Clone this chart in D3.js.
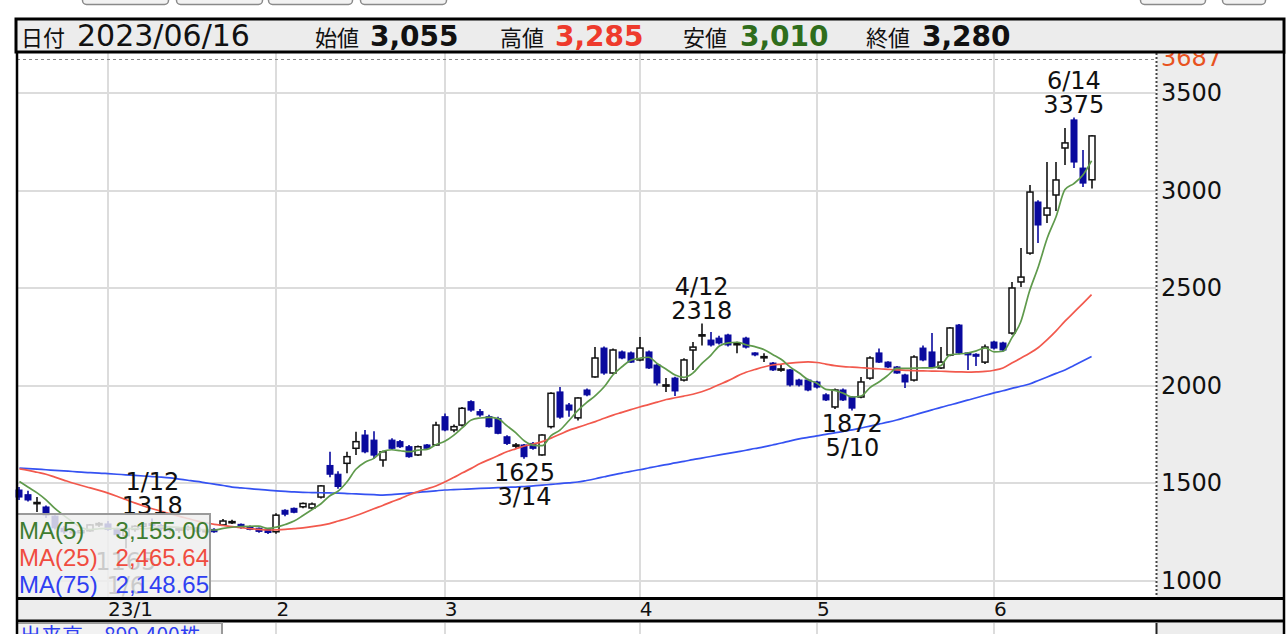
<!DOCTYPE html>
<html><head><meta charset="utf-8">
<script src="https://cdn.jsdelivr.net/npm/d3@7"></script>
<style>body{margin:0;background:#fff;overflow:hidden}svg{display:block}</style>
</head><body><svg id="c" width="1286" height="634"></svg>
<script>
// ---------- DATA ----------
const dates = [
"12/19","12/20","12/21","12/22","12/23","12/26","12/27","12/28","12/29","12/30",
"1/4","1/5","1/6","1/10","1/11","1/12","1/13","1/16","1/17","1/18","1/19","1/20","1/23","1/24","1/25","1/26","1/27","1/30","1/31",
"2/1","2/2","2/3","2/6","2/7","2/8","2/9","2/10","2/13","2/14","2/15","2/16","2/17","2/20","2/21","2/22","2/24","2/27","2/28",
"3/1","3/2","3/3","3/6","3/7","3/8","3/9","3/10","3/13","3/14","3/15","3/16","3/17","3/20","3/22","3/23","3/24","3/27","3/28","3/29","3/30","3/31",
"4/3","4/4","4/5","4/6","4/7","4/10","4/11","4/12","4/13","4/14","4/17","4/18","4/19","4/20","4/21","4/24","4/25","4/26","4/27","4/28",
"5/1","5/2","5/8","5/9","5/10","5/11","5/12","5/15","5/16","5/17","5/18","5/19","5/22","5/23","5/24","5/25","5/26","5/29","5/30","5/31",
"6/1","6/2","6/5","6/6","6/7","6/8","6/9","6/12","6/13","6/14","6/15","6/16"];
const openP = [1464,1440,1395,1377,1330,1268,1250,1245,1255,1285,
1290,1262,1230,1262,1278,1292,1282,1262,1258,1265,1270,1252,1262,1285,1296,1288,1275,1268,1262,
1250,1360,1370,1378,1372,1428,1590,1545,1601,1678,1746,1720,1618,1720,1712,1686,1644,1695,1695,
1840,1772,1797,1917,1866,1840,1830,1737,1692,1695,1703,1644,1789,1967,1900,1834,1977,2044,2192,2064,2172,2167,
2131,2172,2105,1998,2038,2028,2182,2255,2233,2243,2259,2212,2243,2167,2146,2115,2083,2080,2028,2028,
2018,1952,1890,1977,1941,1941,2038,2167,2120,2095,2054,2028,2192,2172,2090,2156,2310,2167,2160,2120,
2223,2218,2269,2531,2679,2941,2874,2977,3218,3362,3115,3055];
const highP = [1479,1460,1428,1385,1335,1280,1262,1262,1290,1300,
1305,1270,1268,1285,1300,1318,1290,1275,1272,1282,1275,1262,1268,1315,1312,1292,1282,1272,1268,
1345,1365,1375,1400,1400,1490,1660,1560,1660,1763,1772,1765,1665,1730,1720,1695,1692,1700,1814,
1857,1800,1890,1925,1880,1850,1840,1745,1705,1700,1710,1750,1965,1992,1910,1940,1985,2197,2200,2190,2180,2175,
2249,2180,2110,2038,2045,2140,2223,2318,2275,2255,2265,2225,2250,2170,2165,2120,2110,2085,2035,2035,
2025,1960,1985,1985,1945,2043,2150,2190,2125,2100,2060,2155,2205,2269,2197,2300,2315,2170,2165,2210,
2230,2225,2531,2705,3028,2950,3146,3146,3321,3375,3208,3285];
const lowP = [1413,1405,1351,1320,1262,1240,1235,1238,1250,1275,
1255,1225,1165,1250,1268,1270,1255,1245,1245,1255,1245,1240,1245,1280,1290,1265,1258,1245,1238,
1240,1330,1345,1370,1365,1420,1530,1470,1550,1644,1652,1625,1583,1670,1680,1630,1638,1670,1690,
1765,1760,1790,1865,1840,1785,1750,1695,1680,1625,1670,1640,1780,1830,1840,1820,1945,2040,2055,2060,2135,2115,
2125,2085,2000,1967,1946,2020,2080,2205,2200,2210,2200,2165,2190,2150,2120,2075,2070,1995,1995,1970,
1985,1920,1880,1920,1872,1935,2030,2115,2090,2060,1987,2020,2125,2090,2085,2150,2160,2080,2100,2110,
2185,2175,2260,2505,2670,2731,2833,2895,3131,3115,3018,3010];
const closeP = [1428,1413,1400,1336,1270,1250,1245,1255,1285,1292,
1262,1235,1262,1278,1290,1282,1265,1258,1265,1272,1252,1256,1250,1305,1302,1272,1262,1252,1246,
1335,1340,1350,1395,1392,1485,1545,1482,1635,1712,1660,1643,1660,1678,1686,1635,1686,1678,1797,
1772,1789,1883,1874,1849,1789,1755,1703,1695,1635,1678,1746,1960,1838,1874,1936,1952,2141,2064,2182,2141,2120,
2192,2090,2013,2003,1972,2131,2197,2260,2208,2218,2208,2215,2197,2157,2148,2080,2085,2003,2003,1977,
1992,1926,1977,1926,1884,2018,2141,2120,2095,2064,2018,2146,2131,2095,2120,2295,2167,2157,2150,2197,
2192,2182,2500,2556,2992,2823,2910,3054,3244,3146,3038,3280];
const priorCloses = [1560,1545,1515,1490];   // closes before the first visible day (for MA5)
const ma25 = [1572,1565,1555,1545,1530,1515,1500,1487,1475,1462,
1448,1432,1415,1398,1382,1368,1355,1343,1330,1318,
1306,1296,1288,1282,1276,1271,1266,1262,1259,1260,
1262,1266,1270,1276,1283,1292,1305,1318,1333,1350,
1368,1385,1403,1420,1440,1456,1470,1485,1505,1528,
1552,1575,1600,1620,1640,1660,1675,1690,1700,1712,
1730,1750,1770,1785,1800,1815,1832,1848,1862,1876,
1890,1902,1915,1928,1937,1946,1955,1968,1985,2005,
2025,2048,2068,2082,2095,2105,2110,2115,2119,2121,
2118,2110,2102,2097,2094,2091,2088,2086,2083,2080,
2078,2076,2075,2074,2073,2071,2070,2069,2070,2072,
2078,2090,2115,2140,2165,2195,2235,2280,2330,2375,
2420,2466];
const ma75 = [1577,1574,1571,1568,1565,1562,1559,1556,1553,1551,
1548,1545,1542,1539,1536,1533,1530,1526,1520,1514,
1508,1501,1494,1487,1479,1475,1471,1467,1463,1460,
1457,1454,1452,1451,1450,1449,1448,1446,1444,1442,
1440,1438,1440,1444,1448,1452,1456,1460,1464,1466,
1468,1470,1472,1474,1476,1478,1479,1482,1485,1489,
1493,1497,1501,1505,1513,1522,1532,1542,1551,1560,
1568,1577,1586,1594,1603,1611,1620,1628,1636,1644,
1652,1660,1668,1677,1685,1695,1705,1716,1726,1734,
1742,1749,1757,1765,1772,1782,1792,1802,1812,1823,
1836,1849,1862,1875,1888,1900,1912,1925,1937,1950,
1962,1973,1985,1996,2008,2026,2044,2062,2080,2103,
2126,2149];
const yTicks = [1000,1500,2000,2500,3000,3500];
const rangeMax = 3687;
const monthStarts = ["1/4","2/1","3/1","4/3","5/1","6/1"];
const monthLabels = ["23/1","2","3","4","5","6"];
const highDates = ["1/12","4/12","6/14"], highVals = [1318,2318,3375];
const lowDates = ["1/6","3/14","5/10"], lowVals = [1165,1625,1872];
const legendNames = ["MA(5)","MA(25)","MA(75)"];
const legendVals = ["3,155.00","2,465.64","2,148.65"];
const headerDate = "2023/06/16";
const headerLabels = ["始値","高値","安値","終値"];
const headerVals = ["3,055","3,285","3,010","3,280"];
const volumeText = "出来高　899,400株";

// ---------- derived ----------
const allC = priorCloses.concat(closeP);
const ma5 = closeP.map((c,i)=>d3.mean(allC.slice(i, i+5)));
const N = dates.length;
const idx = d3.range(N);

// ---------- layout ----------
const svg = d3.select("#c");
const L=17, R=1156, T=53, B=598, AX=1284;
const x = d3.scaleBand().domain(dates).range([15,1096]).paddingInner(0.32).paddingOuter(0.16);
const xc = d => x(d) + x.bandwidth()/2;
const y = d3.scaleLinear().domain([1000,3500]).range([580.5,93]);

const C_DOWN = "#0a0a9e", C_G="#5f9a4c", C_R="#f2594d", C_B="#3552f2";
const NUMF = "'DejaVu Sans', sans-serif";

svg.append("rect").attr("width",1286).attr("height",634).attr("fill","#fff");

// top buttons (cut off)
[[82,168],[176,262],[268,352],[360,446],[1140,1205],[1222,1265]].forEach(b=>{
  svg.append("rect").attr("x",b[0]+0.5).attr("y",-20).attr("width",b[1]-b[0]).attr("height",24.5)
    .attr("rx",4).attr("fill","#f2f2f2").attr("stroke","#8a8a8a").attr("stroke-width",1.5);
});

// plot background
svg.append("rect").attr("x",L).attr("y",T).attr("width",R-L).attr("height",B-T).attr("fill","#fff");

// grid
const grid = svg.append("g");
grid.selectAll("line.h").data(yTicks).join("line")
  .attr("x1",L).attr("x2",R).attr("y1",d=>Math.round(y(d))).attr("y2",d=>Math.round(y(d)))
  .attr("stroke","#dcdcdc").attr("stroke-width",2);
grid.selectAll("line.v").data(monthStarts).join("line")
  .attr("x1",d=>Math.round(xc(d))).attr("x2",d=>Math.round(xc(d))).attr("y1",T).attr("y2",B)
  .attr("stroke","#dcdcdc").attr("stroke-width",2);
// max range dashed line
svg.append("line").attr("x1",L).attr("x2",R).attr("y1",Math.round(y(rangeMax))+2.5).attr("y2",Math.round(y(rangeMax))+2.5)
  .attr("stroke","#888").attr("stroke-width",1.2).attr("stroke-dasharray","3,3");

// candles
const cg = svg.append("g");
idx.forEach(i=>{
  const o=openP[i], h=highP[i], l=lowP[i], c=closeP[i];
  const cx = Math.round(xc(dates[i]));
  const up = c>=o;
  const top = y(Math.max(o,c)), bot = y(Math.min(o,c));
  const col = up ? "#111" : C_DOWN;
  cg.append("line").attr("x1",cx).attr("x2",cx).attr("y1",y(h)).attr("y2",y(l))
    .attr("stroke",col).attr("stroke-width",1.6);
  cg.append("rect").attr("x",cx-3).attr("y",top).attr("width",6).attr("height",Math.max(1.2,bot-top))
    .attr("fill",up?"#fff":C_DOWN).attr("stroke",col).attr("stroke-width",up?1.5:1);
});

// moving averages
const line = arr => d3.line().x((d,i)=>xc(dates[i])).y(d=>y(d)).curve(d3.curveMonotoneX)(arr);
svg.append("path").attr("d",line(ma75)).attr("fill","none").attr("stroke",C_B).attr("stroke-width",1.7);
svg.append("path").attr("d",line(ma25)).attr("fill","none").attr("stroke",C_R).attr("stroke-width",1.7);
svg.append("path").attr("d",line(ma5)).attr("fill","none").attr("stroke",C_G).attr("stroke-width",1.7);

// high/low annotations
const ann = svg.append("g").attr("font-family",NUMF).attr("font-size",24).attr("fill","#111").attr("text-anchor","middle");
highDates.forEach((d,k)=>{
  const cx = xc(d), yy = y(highVals[k]);
  ann.append("text").attr("x",cx).attr("y",yy-28).text(d);
  ann.append("text").attr("x",cx).attr("y",yy-4).text(highVals[k]);
});
lowDates.forEach((d,k)=>{
  const cx = xc(d), yy = y(lowVals[k]);
  ann.append("text").attr("x",cx).attr("y",yy+22).text(lowVals[k]);
  ann.append("text").attr("x",cx).attr("y",yy+46).text(d);
});

// legend box
const lg = svg.append("g");
lg.append("rect").attr("x",17).attr("y",514).attr("width",193).attr("height",84)
  .attr("fill","rgba(238,238,238,0.84)").attr("stroke","#9a9a9a").attr("stroke-width",2);
const lgCols = ["#3f7d30","#f04c40","#2f3ff2"];
legendNames.forEach((n,k)=>{
  lg.append("text").attr("x",19).attr("y",539+k*27).attr("font-family","'Liberation Sans',Arial,sans-serif")
    .attr("font-size",24).attr("fill",lgCols[k]).text(n);
  lg.append("text").attr("x",209).attr("y",539+k*27).attr("text-anchor","end").attr("font-family","'Liberation Sans',Arial,sans-serif")
    .attr("font-size",24).attr("fill",lgCols[k]).text(legendVals[k]);
});

// right axis panel
svg.append("rect").attr("x",R+1).attr("y",T).attr("width",AX-R-1).attr("height",B-T).attr("fill","#ededed");
svg.append("line").attr("x1",R+0.5).attr("x2",R+0.5).attr("y1",T).attr("y2",B)
  .attr("stroke","#444").attr("stroke-width",2).attr("stroke-dasharray","2,2");
const yAxis = svg.append("g").attr("transform",`translate(${R+1},0)`)
  .call(d3.axisRight(y).tickValues(yTicks).tickSize(0).tickPadding(4).tickFormat(d3.format("d")));
yAxis.select(".domain").remove();
yAxis.selectAll("text").attr("font-family",NUMF).attr("font-size",24).attr("fill","#111");
svg.append("text").attr("x",R+5).attr("y",y(rangeMax)+9).attr("font-family",NUMF).attr("font-size",24)
  .attr("fill","#e8531f").text(rangeMax);

// x strip
svg.append("rect").attr("x",L).attr("y",B).attr("width",AX-L).attr("height",23).attr("fill","#ededed");
const xAxis = svg.append("g").attr("transform",`translate(0,${B+2})`)
  .call(d3.axisBottom(x).tickValues(monthStarts).tickSize(0).tickPadding(0).tickFormat((d,i)=>monthLabels[i]));
xAxis.select(".domain").remove();
xAxis.selectAll("text").attr("font-family",NUMF).attr("font-size",20).attr("fill","#111")
  .attr("text-anchor","start").attr("dy","0.78em");
svg.append("line").attr("x1",L).attr("x2",AX).attr("y1",B+0.5).attr("y2",B+0.5).attr("stroke","#000").attr("stroke-width",3);
svg.append("line").attr("x1",L).attr("x2",AX).attr("y1",B+23).attr("y2",B+23).attr("stroke","#000").attr("stroke-width",3);

// volume panel (cut off)
const vg = svg.append("g");
vg.append("rect").attr("x",R+1).attr("y",B+25).attr("width",AX-R-1).attr("height",20).attr("fill","#ededed");
vg.selectAll("line").data(monthStarts).join("line")
  .attr("x1",d=>Math.round(xc(d))).attr("x2",d=>Math.round(xc(d))).attr("y1",B+25).attr("y2",634)
  .attr("stroke","#dcdcdc").attr("stroke-width",2);
vg.append("line").attr("x1",R+0.5).attr("x2",R+0.5).attr("y1",B+25).attr("y2",634).attr("stroke","#222").attr("stroke-width",2);
vg.append("rect").attr("x",17).attr("y",B+25).attr("width",205).attr("height",30)
  .attr("fill","rgba(240,240,240,0.85)").attr("stroke","#9a9a9a").attr("stroke-width",2);
vg.append("text").attr("x",20).attr("y",B+45).attr("font-family","'Noto Sans CJK JP',sans-serif").attr("font-size",21)
  .attr("fill","#2f3ff2").text(volumeText);

// borders
svg.append("line").attr("x1",L).attr("x2",L).attr("y1",T).attr("y2",634).attr("stroke","#000").attr("stroke-width",2.5);
svg.append("line").attr("x1",AX).attr("x2",AX).attr("y1",T).attr("y2",634).attr("stroke","#000").attr("stroke-width",2.5);

// header
const hg = svg.append("g");
hg.append("rect").attr("x",16).attr("y",19).attr("width",AX-16).attr("height",33)
  .attr("fill","#ececec").attr("stroke","#000").attr("stroke-width",3);
const JP = "'Noto Sans CJK JP',sans-serif";
hg.append("text").attr("x",21).attr("y",46).attr("font-family",JP).attr("font-size",22).attr("fill","#111").text("日付");
hg.append("text").attr("x",77).attr("y",46).attr("font-family",NUMF).attr("font-size",30).attr("fill","#111").text(headerDate);
const hx = [[315,370],[500,555],[683,740],[866,922]];
const hcol = ["#111","#ee3a2c","#2f6d1c","#111"];
headerLabels.forEach((lab,k)=>{
  hg.append("text").attr("x",hx[k][0]).attr("y",46).attr("font-family",JP).attr("font-size",22).attr("fill","#111").text(lab);
  hg.append("text").attr("x",hx[k][1]).attr("y",46).attr("font-family",NUMF).attr("font-weight","bold")
    .attr("font-size",28).attr("fill",hcol[k]).text(headerVals[k]);
});
</script></body></html>
